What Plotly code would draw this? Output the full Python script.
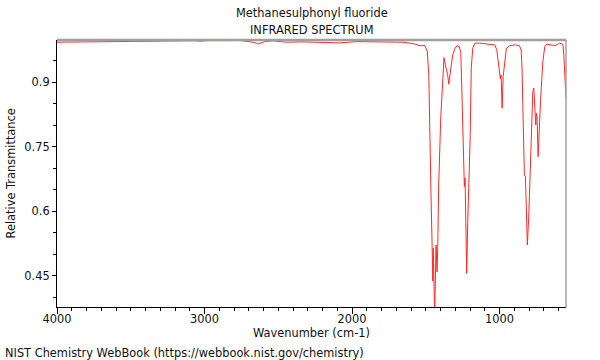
import plotly.graph_objects as go

wavenumber = [
    4000, 3710, 3371, 3066, 3032, 2985, 2760, 2670, 2636, 2591, 2537, 2444, 2333, 2198,
    2082, 1969, 1858, 1743, 1655, 1587, 1539, 1506, 1490, 1480, 1474, 1465, 1458, 1453,
    1450, 1447, 1440, 1431, 1424, 1419, 1413, 1399, 1385, 1377, 1368, 1358, 1352, 1345,
    1338, 1329, 1318, 1302, 1287, 1273, 1263, 1257, 1250, 1243, 1239, 1234, 1227, 1223,
    1216, 1207, 1200, 1192, 1182, 1168, 1124, 1078, 1033, 1019, 1010, 1002, 995, 990,
    983, 976, 965, 954, 931, 897, 866, 854, 848, 839, 832, 825, 820, 812, 802, 793, 785,
    775, 768, 761, 755, 751, 746, 739, 732, 723, 707, 694, 680, 651, 622, 594, 571, 565,
    558, 550,
]
transmittance = [
    0.9929, 0.9941, 0.9955, 0.9962, 0.9950, 0.9964, 0.9967, 0.9929, 0.9890, 0.9943,
    0.9960, 0.9929, 0.9936, 0.9929, 0.9913, 0.9943, 0.9943, 0.9943, 0.9929, 0.9897,
    0.9850, 0.9850, 0.9711, 0.9170, 0.7776, 0.6382, 0.5297, 0.4384, 0.5144, 0.4368,
    0.3550, 0.5220, 0.4593, 0.5220, 0.6614, 0.8171, 0.9246, 0.9572, 0.9402, 0.9286,
    0.9170, 0.8954, 0.9170, 0.9402, 0.9634, 0.9790, 0.9850, 0.9827, 0.9674, 0.8937,
    0.7776, 0.6691, 0.6575, 0.6777, 0.5761, 0.4563, 0.5761, 0.6846, 0.7660, 0.9332,
    0.9790, 0.9906, 0.9906, 0.9883, 0.9867, 0.9750, 0.9479, 0.9170, 0.9077, 0.9170,
    0.8396, 0.9130, 0.9558, 0.9790, 0.9850, 0.9867, 0.9850, 0.9750, 0.9325, 0.8164,
    0.6846, 0.6807, 0.6312, 0.5220, 0.5917, 0.7009, 0.8171, 0.8782, 0.8861, 0.8473,
    0.8008, 0.8280, 0.8171, 0.7272, 0.8008, 0.8549, 0.9479, 0.9827, 0.9883, 0.9867,
    0.9850, 0.9906, 0.9883, 0.9634, 0.9170, 0.8628,
]

x_tick_vals = [4000, 3000, 2000, 1000]
x_tick_text = ["4000", "3000", "2000", "1000"]
y_tick_vals = [0.45, 0.6, 0.75, 0.9]
y_tick_text = ["0.45", "0.6", "0.75", "0.9"]

FONT = "DejaVu Sans"
FS = 11.4
fig = go.Figure()
fig.add_trace(go.Scatter(
    x=wavenumber, y=transmittance, mode="lines",
    line=dict(color="#ff2a2a", width=1), showlegend=False, hoverinfo="skip",
))

fig.update_layout(
    width=600, height=360,
    margin=dict(l=57, r=34, t=40, b=53, autoexpand=False),
    paper_bgcolor="white", plot_bgcolor="white",
    font=dict(family=FONT, size=FS, color="#111"),
    xaxis=dict(
        range=[4000, 550], showgrid=False, zeroline=False, automargin=False,
        showline=True, linecolor="black", linewidth=1,
        ticks="outside", ticklen=6, tickcolor="black", ticklabelstandoff=-5,
        tickmode="array", tickvals=x_tick_vals, ticktext=x_tick_text,
        minor=dict(tickmode="linear", tick0=0, dtick=100, ticklen=3,
                   tickcolor="black", ticks="outside", showgrid=False),
    ),
    yaxis=dict(
        range=[0.378, 0.998], showgrid=False, zeroline=False, automargin=False,
        showline=True, linecolor="black", linewidth=1,
        ticks="outside", ticklen=4, tickcolor="black",
        tickmode="array", tickvals=y_tick_vals, ticktext=y_tick_text,
        minor=dict(tickmode="linear", tick0=0, dtick=0.05, ticklen=3,
                   tickcolor="black", ticks="outside", showgrid=False),
    ),
    shapes=[
        dict(type="line", xref="paper", yref="paper", x0=0, x1=1, y0=1, y1=1,
             line=dict(color="#a0a0a0", width=2.5)),
        dict(type="line", xref="paper", yref="paper", x0=1, x1=1, y0=0, y1=1,
             line=dict(color="#a0a0a0", width=1.5)),
    ],
    annotations=[
        dict(text="Methanesulphonyl fluoride", xref="paper", yref="paper",
             x=0.5, y=1, yshift=27, showarrow=False, xanchor="center", yanchor="middle",
             font=dict(size=FS)),
        dict(text="INFRARED SPECTRUM", xref="paper", yref="paper",
             x=0.5, y=1, yshift=10, showarrow=False, xanchor="center", yanchor="middle",
             font=dict(size=FS)),
        dict(text="Wavenumber (cm-1)", xref="paper", yref="paper",
             x=0.5, y=0, yshift=-26, showarrow=False, xanchor="center", yanchor="middle",
             font=dict(size=FS)),
        dict(text="Relative Transmittance", xref="paper", yref="paper",
             x=0, y=0.5, xshift=-47, textangle=-90, showarrow=False,
             xanchor="center", yanchor="middle", font=dict(size=FS)),
        dict(text="NIST Chemistry WebBook (https://webbook.nist.gov/chemistry)",
             xref="paper", yref="paper", x=-54/509, y=0, yshift=-46,
             showarrow=False, xanchor="left", yanchor="middle", font=dict(size=FS)),
    ],
)

fig.write_html("out.html", config={"displayModeBar": False},
               post_script="document.body.style.margin='0';")
